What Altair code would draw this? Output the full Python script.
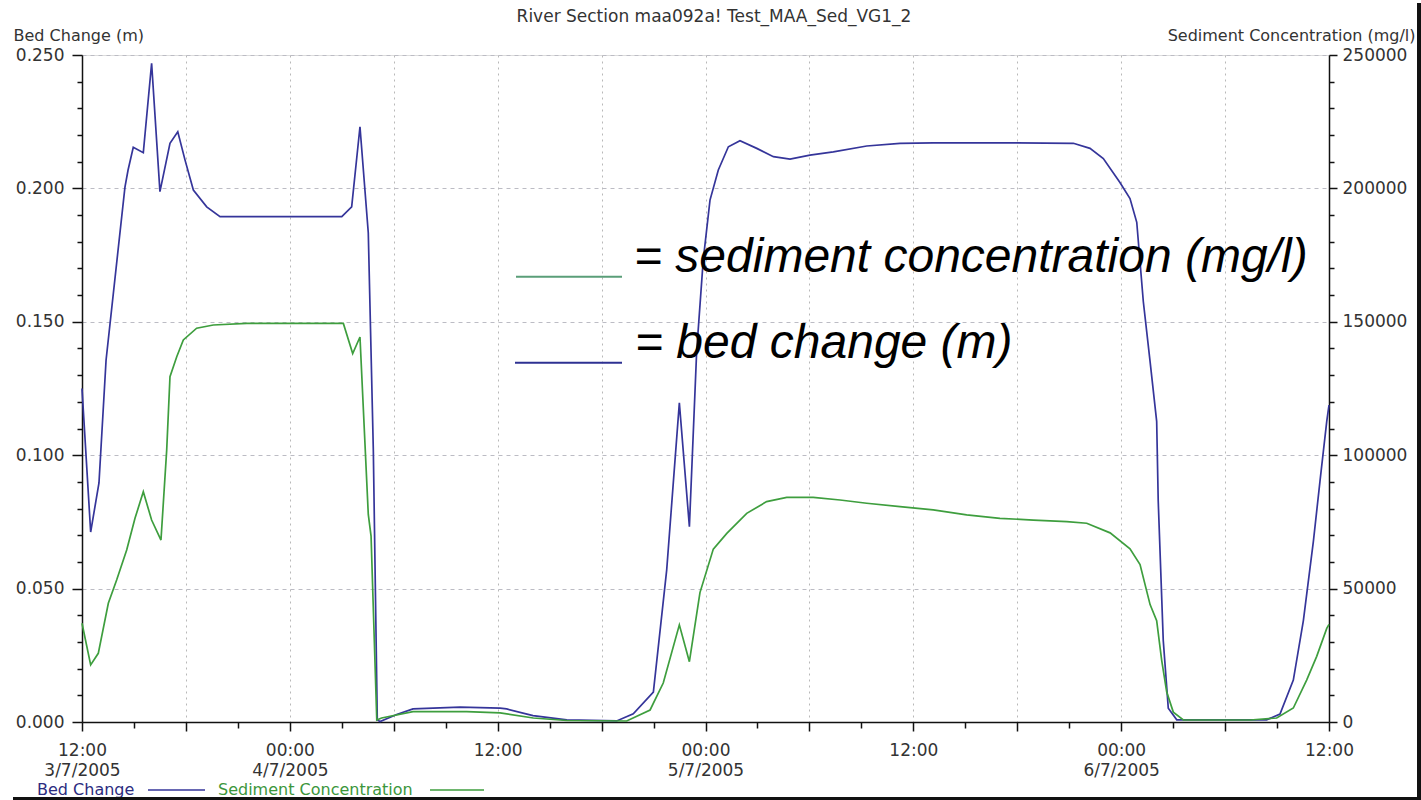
import altair as alt
import pandas as pd

# ---------------- data ----------------
TITLE = "River Section maa092a! Test_MAA_Sed_VG1_2"
START = "2005-07-03 12:00"          # first tick (12:00 3/7/2005), 72 h span

# Bed change (m): hours after START, value
bed_hours = [0.00, 0.50, 0.98, 1.39, 2.48, 2.66, 2.96, 3.54, 4.02, 4.50,
             5.08, 5.53, 5.95, 6.43, 7.20, 7.97, 15.00, 15.57, 16.05, 16.53,
             16.82, 17.05, 17.21, 18.17, 19.11, 21.83, 24.14, 24.52, 26.04, 27.99,
             30.87, 31.83, 32.99, 33.76, 34.49, 35.07, 35.49, 35.87, 36.26, 36.74,
             37.32, 37.99, 38.96, 39.92, 40.88, 42.03, 43.38, 45.31, 47.23, 49.15,
             53.97, 57.24, 58.20, 58.97, 59.93, 60.51, 60.90, 61.28, 61.67, 62.05,
             62.14, 62.43, 62.72, 63.21, 68.40, 69.17, 69.94, 70.52, 71.10, 71.48,
             71.87, 72.00]
bed_values = [0.125, 0.0712, 0.0896, 0.1357, 0.2005, 0.2069, 0.2154, 0.2134, 0.2469, 0.1988,
              0.2169, 0.2212, 0.2106, 0.1994, 0.1931, 0.1894, 0.1894, 0.1931, 0.2231, 0.1833,
              0.1021, 0.0008, 0.0002, 0.0028, 0.0049, 0.0056, 0.0052, 0.0049, 0.0024, 0.0008,
              0.0004, 0.0031, 0.0112, 0.057, 0.1196, 0.0732, 0.139, 0.1732, 0.1956, 0.2069,
              0.2156, 0.2179, 0.2150, 0.2119, 0.2110, 0.2125, 0.2137, 0.2159, 0.2169, 0.2171,
              0.2171, 0.2169, 0.2150, 0.2112, 0.2022, 0.1962, 0.1873, 0.1575, 0.1351, 0.1127,
              0.0828, 0.0306, 0.0052, 0.0008, 0.0008, 0.0030, 0.0157, 0.0380, 0.0678, 0.0903,
              0.1127, 0.1188]

# Sediment concentration (mg/l): hours after START, value
sed_hours = [0.00, 0.50, 0.94, 1.52, 2.00, 2.58, 3.06, 3.54, 4.02, 4.56,
             4.89, 5.08, 5.47, 5.85, 6.62, 7.58, 9.51, 15.09, 15.63, 16.05,
             16.53, 16.69, 17.02, 17.30, 19.11, 22.21, 24.14, 26.06, 27.99, 31.45,
             32.80, 33.56, 34.49, 35.07, 35.68, 36.45, 37.23, 38.38, 39.53, 40.69,
             42.22, 43.77, 45.31, 47.23, 49.15, 51.08, 53.00, 54.93, 56.86, 58.01,
             59.36, 60.51, 61.09, 61.67, 62.05, 62.34, 62.63, 63.01, 63.59, 67.44,
             68.98, 69.94, 70.71, 71.29, 71.87, 72.00]
sed_values = [37000, 21400, 25750, 44500, 53200, 64500, 76350, 86300, 75700, 68200,
              101900, 129400, 136900, 143200, 147600, 148800, 149400, 149400, 138100, 144300,
              77800, 69700, 750, 1500, 3900, 3900, 3450, 1500, 560, 375,
              4500, 14600, 36400, 22600, 48500, 64800, 70700, 78200, 82600, 84200,
              84200, 83200, 82000, 80700, 79500, 77600, 76350, 75700, 75100, 74500,
              70900, 64900, 59000, 44000, 38000, 23100, 11200, 3700, 750, 750,
              1500, 5250, 15700, 24600, 35100, 36600]

bed_ticks = [round(0.01 * i, 2) for i in range(26)]
sed_ticks = [10000 * i for i in range(26)]
tick_hours = [3 * i for i in range(25)]

legend_names = ["Bed Change", "Sediment Concentration"]
note_texts = ["= sediment concentration (mg/l)", "= bed change (m)"]

# ---------------- build tables ----------------
t0 = pd.Timestamp(START)


def stamps(hours):
    return [(t0 + pd.Timedelta(hours=h)).strftime("%Y-%m-%dT%H:%M:%SZ") for h in hours]


bed_df = pd.DataFrame({"time": stamps(bed_hours), "bed": bed_values})
sed_df = pd.DataFrame({"time": stamps(sed_hours), "sed": sed_values})
tick_ms = [int((t0 + pd.Timedelta(hours=h)).value // 10**6) for h in tick_hours]

BLUE = "#35359a"
GREEN = "#3e9e3e"
FONT = "DejaVu Sans"
TXT = "#333333"

x_label = (
    "utchours(datum.value) % 12 != 0 ? '' : "
    "((utchours(datum.value) == 0 || time(datum.value) == " + str(tick_ms[0]) + ") ? "
    "[utcFormat(datum.value, '%H:%M'), utcFormat(datum.value, '%-d/%-m/%Y')] : "
    "utcFormat(datum.value, '%H:%M'))"
)
six = "utchours(datum.value) % 6 == 0"

x_enc = alt.X(
    "time:T",
    title=None,
    scale=alt.Scale(type="utc", domain=[tick_ms[0], tick_ms[-1]], nice=False),
    axis=alt.Axis(
        values=tick_ms, labelExpr=x_label, labelOverlap=False, labelFlush=False,
        grid=True, gridColor="#b8b8b8", gridDash=[2, 4], gridWidth=1,
        gridOpacity={"condition": {"test": six, "value": 1}, "value": 0},
        tickSize={"condition": {"test": six, "value": 9}, "value": 6},
        tickColor="#111111", tickWidth=1.5, domainColor="#111111", domainWidth=1.5,
        labelFont=FONT, labelFontSize=17, labelColor=TXT, labelPadding=11,
        labelLineHeight=20,
    ),
)

major_bed = "abs(datum.value * 20 - round(datum.value * 20)) < 0.001"
blue = alt.Chart(bed_df).mark_line(color=BLUE, strokeWidth=1.7).encode(
    x=x_enc,
    y=alt.Y(
        "bed:Q",
        scale=alt.Scale(domain=[0, 0.25], nice=False),
        axis=alt.Axis(
            orient="left", values=bed_ticks,
            labelExpr=major_bed + " ? format(datum.value, '.3f') : ''",
            grid=True, gridColor="#bcbcc4", gridDash=[4, 4], gridWidth=1,
            gridOpacity={"condition": {"test": major_bed, "value": 1}, "value": 0},
            tickSize={"condition": {"test": major_bed, "value": 10}, "value": 5},
            tickColor="#111111", tickWidth=1.5, domainColor="#111111", domainWidth=1.5,
            labelFont=FONT, labelFontSize=17, labelColor=TXT, labelPadding=8,
            title="Bed Change (m)", titleAngle=0, titleAlign="left",
            titleBaseline="alphabetic", titleX=-69, titleY=-15,
            titleFont=FONT, titleFontSize=16, titleFontWeight="normal", titleColor=TXT,
        ),
    ),
)

major_sed = "datum.value % 50000 == 0"
green = alt.Chart(sed_df).mark_line(color=GREEN, strokeWidth=1.7).encode(
    x=x_enc,
    y=alt.Y(
        "sed:Q",
        scale=alt.Scale(domain=[0, 250000], nice=False),
        axis=alt.Axis(
            orient="right", values=sed_ticks,
            labelExpr=major_sed + " ? format(datum.value, 'd') : ''",
            grid=False,
            tickSize={"condition": {"test": major_sed, "value": 8}, "value": 5},
            tickColor="#111111", tickWidth=1.5, domainColor="#111111", domainWidth=1.5,
            labelFont=FONT, labelFontSize=17, labelColor=TXT, labelPadding=5,
            title="Sediment Concentration (mg/l)", titleAngle=0, titleAlign="right",
            titleBaseline="alphabetic", titleX=86, titleY=-15,
            titleFont=FONT, titleFontSize=16, titleFontWeight="normal", titleColor=TXT,
        ),
    ),
)

one = pd.DataFrame({"k": [0]})

# chart title as text above the plot
title_mark = alt.Chart(pd.DataFrame({"t": [TITLE]})).mark_text(
    font=FONT, fontSize=17, color=TXT, align="center", baseline="alphabetic").encode(
    text="t:N", x=alt.value(632), y=alt.value(-33))

# in-plot annotation (keys + italic texts)
key_green = alt.Chart(one).mark_rule(color="#5a9e78", strokeWidth=2).encode(
    x=alt.value(434), x2=alt.value(540), y=alt.value(221.7))
key_blue = alt.Chart(one).mark_rule(color="#2e3192", strokeWidth=2).encode(
    x=alt.value(433), x2=alt.value(540), y=alt.value(307.7))
note1 = alt.Chart(pd.DataFrame({"t": [note_texts[0]]})).mark_text(
    font="Liberation Sans", fontSize=48, fontStyle="italic", color="black",
    align="left", baseline="alphabetic").encode(
    text="t:N", x=alt.value(552), y=alt.value(216.7))
note2 = alt.Chart(pd.DataFrame({"t": [note_texts[1]]})).mark_text(
    font="Liberation Sans", fontSize=48, fontStyle="italic", color="black",
    align="left", baseline="alphabetic").encode(
    text="t:N", x=alt.value(553), y=alt.value(303))

# bottom legend (label then line)
leg_t1 = alt.Chart(pd.DataFrame({"t": [legend_names[0]]})).mark_text(
    font=FONT, fontSize=16, color="#2c2c80", align="left", baseline="middle").encode(
    text="t:N", x=alt.value(-45), y=alt.value(735))
leg_l1 = alt.Chart(one).mark_rule(color=BLUE, strokeWidth=1.5).encode(
    x=alt.value(66), x2=alt.value(123), y=alt.value(735))
leg_t2 = alt.Chart(pd.DataFrame({"t": [legend_names[1]]})).mark_text(
    font=FONT, fontSize=16, color="#3c963c", align="left", baseline="middle").encode(
    text="t:N", x=alt.value(136), y=alt.value(735))
leg_l2 = alt.Chart(one).mark_rule(color=GREEN, strokeWidth=1.5).encode(
    x=alt.value(348), x2=alt.value(402), y=alt.value(735))

# screenshot frame edges
frame_r = alt.Chart(one).mark_rule(color="#111111", strokeWidth=4).encode(
    x=alt.value(1337), y=alt.value(-52), y2=alt.value(745))
frame_b = alt.Chart(one).mark_rule(color="#111111", strokeWidth=3).encode(
    x=alt.value(-69), x2=alt.value(1339), y=alt.value(743.5))

chart = alt.layer(
    blue, green, title_mark, key_green, key_blue, note1, note2,
    leg_t1, leg_l1, leg_t2, leg_l2, frame_r, frame_b,
).resolve_scale(y="independent").properties(
    width=1247, height=667,
    padding={"left": 82, "top": 55, "right": 92, "bottom": 78},
    autosize=alt.AutoSizeParams(type="none"),
).configure_view(stroke=None).configure(background="white")

chart.save("out.html", embed_options={"renderer": "svg", "actions": False})
